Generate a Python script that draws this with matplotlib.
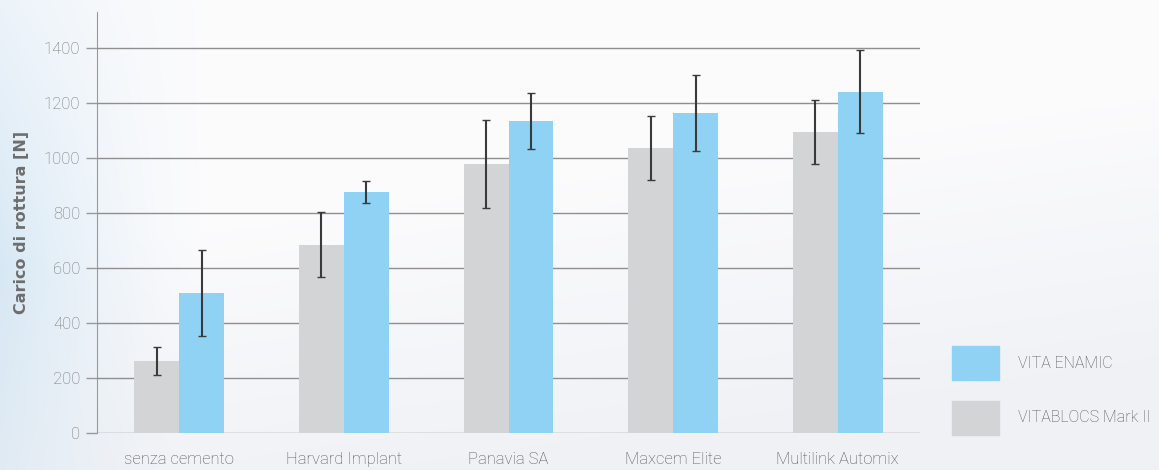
import numpy as np
import matplotlib
matplotlib.use("Agg")
import matplotlib.pyplot as plt
from matplotlib.patches import Rectangle

categories = ["senza cemento", "Harvard Implant", "Panavia SA", "Maxcem Elite", "Multilink Automix"]
series_names = ["VITABLOCS Mark II", "VITA ENAMIC"]
mark2 = [262, 684, 978, 1036, 1095]
mark2_err = [50, 118, 160, 115, 117]
enamic = [509, 877, 1135, 1164, 1240]
enamic_err = [155, 40, 102, 138, 151]
yticks = [0, 200, 400, 600, 800, 1000, 1200, 1400]

c_blue = "#8fd2f3"
c_gray = "#d3d4d5"
txt = "#757575"

fig = plt.figure(figsize=(11.59, 4.70), dpi=100)

# background gradient
bg = fig.add_axes([0, 0, 1, 1], zorder=-10)
h, w = 200, 400
yy, xx = np.mgrid[0:1:h*1j, 0:1:w*1j]
white = np.array([0.985, 0.985, 0.99])
blue = np.array([0.84, 0.91, 0.96])
grey = np.array([0.92, 0.93, 0.95])
tb = np.clip(1 - xx / 0.18, 0, 1) ** 1.5 * np.clip(0.4 + yy, 0, 1)
tg = np.clip((yy + 0.35 * xx - 0.55) / 0.6, 0, 1) * 0.7
img = white * (1 - tb[..., None]) + blue * tb[..., None]
img = img * (1 - tg[..., None]) + grey * tg[..., None]
bg.imshow(img, aspect="auto", extent=[0, 1, 0, 1], origin="upper")
bg.axis("off")

ax = fig.add_axes([97/1159, 37/470, 823/1159, 421/470])
ax.set_facecolor("none")
x = np.arange(len(categories))
bw = 0.273
ax.bar(x - bw/2, mark2, width=bw, color=c_gray, zorder=3)
ax.bar(x + bw/2, enamic, width=bw, color=c_blue, zorder=3)
ax.errorbar(x - bw/2, mark2, yerr=mark2_err, fmt="none", ecolor="#3a3a3a",
            elinewidth=1.5, capsize=3, capthick=1.0, zorder=5)
ax.errorbar(x + bw/2, enamic, yerr=enamic_err, fmt="none", ecolor="#3a3a3a",
            elinewidth=1.5, capsize=3, capthick=1.0, zorder=5)

ax.set_xlim(-0.5, len(categories) - 0.5)
ax.set_ylim(0, 1530)
ax.set_yticks(yticks)
ax.yaxis.grid(True, color="#8f8f8f", linewidth=1.0, zorder=4)
ax.set_axisbelow(False)
for s in ["top", "right", "bottom"]:
    ax.spines[s].set_visible(False)
ax.spines["left"].set_color("#999999")
ax.tick_params(axis="y", colors="#999999", length=8, width=1, labelcolor=txt,
               labelsize=12, pad=4)
ax.tick_params(axis="x", length=0, labelcolor="#555555", labelsize=12, pad=14)
ax.set_xticks(x)
ax.set_xticklabels(categories, fontfamily="Roboto", fontweight="light")
for lab in ax.get_yticklabels():
    lab.set_fontfamily("Roboto")
    lab.set_fontweight("light")
ax.set_ylabel("Carico di rottura [N]", fontsize=11.5, fontweight="bold", color="#6e6e6e",
              labelpad=11)

# legend
legend_items = [(series_names[1], c_blue, 346), (series_names[0], c_gray, 401)]
for name, col, ytop in legend_items:
    fig.add_artist(Rectangle((952/1159, 1 - (ytop + 34)/470), 47/1159, 34/470,
                             transform=fig.transFigure, color=col))
    fig.text(1018/1159, 1 - (ytop + 17)/470, name, va="center", ha="left",
             fontsize=11.5, color="#555555", fontfamily="Roboto", fontweight="light")

fig.savefig("out.png", dpi=100)
